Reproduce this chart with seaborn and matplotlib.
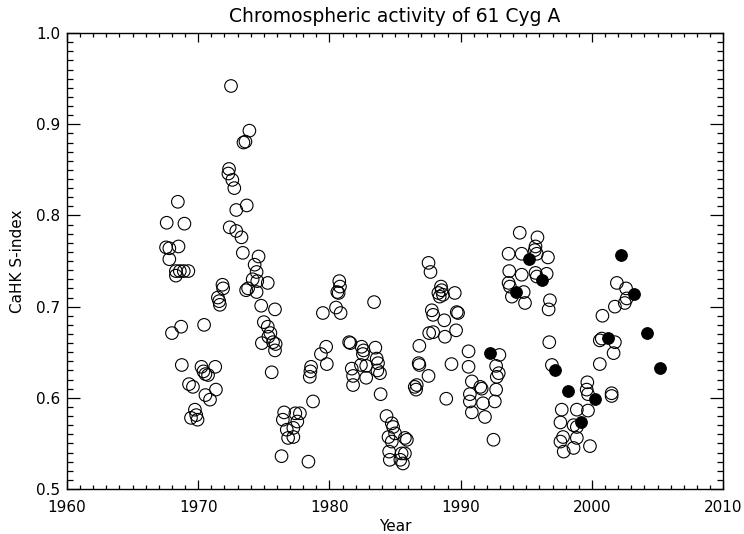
import matplotlib
matplotlib.use("Agg")
import matplotlib.pyplot as plt
from matplotlib.ticker import MultipleLocator, FormatStrFormatter
import seaborn as sns

# open circles
year_open = [
    1967.6, 1968.95, 1968.45, 1967.55, 1967.8, 1968.5, 1967.8, 1968.3, 1968.6, 1968.9,
    1969.25, 1968.3, 1968.0, 1968.7, 1970.45, 1968.75, 1970.25, 1970.4, 1970.75, 1971.3,
    1970.55, 1969.3, 1969.6, 1971.35, 1970.55, 1970.9, 1969.75, 1969.45, 1969.95, 1969.85,
    1971.85, 1971.9, 1971.5, 1971.6, 1971.65, 1972.5, 1973.9, 1973.45, 1973.6, 1972.35,
    1972.3, 1972.6, 1972.75, 1972.9, 1973.7, 1972.4, 1972.9, 1973.3, 1973.4, 1974.6,
    1974.3, 1974.45, 1974.15, 1974.5, 1975.3, 1973.65, 1973.8, 1974.45, 1974.8, 1975.0,
    1975.3, 1975.5, 1975.35, 1974.85, 1975.6, 1975.85, 1975.7, 1975.9, 1975.85, 1976.55,
    1976.45, 1977.4, 1977.75, 1977.55, 1976.75, 1977.25, 1976.85, 1977.25, 1976.35, 1978.4,
    1978.75, 1978.5, 1978.55, 1978.6, 1979.35, 1979.75, 1979.8, 1979.5, 1980.75, 1980.8,
    1980.6, 1980.7, 1980.5, 1980.85, 1983.4, 1981.5, 1981.6, 1982.45, 1982.6, 1982.55,
    1983.5, 1983.6, 1983.7, 1983.65, 1983.85, 1981.7, 1981.8, 1981.8, 1982.4, 1982.8,
    1982.8, 1983.9, 1984.35, 1984.75, 1984.85, 1984.5, 1984.75, 1985.75, 1985.9, 1984.55,
    1984.6, 1985.5, 1985.75, 1985.4, 1985.6, 1985.0, 1987.55, 1987.7, 1988.3, 1988.4,
    1987.8, 1987.9, 1987.6, 1987.9, 1986.85, 1986.8, 1986.85, 1987.55, 1986.5, 1986.6,
    1986.65, 1988.5, 1988.55, 1988.65, 1989.55, 1988.75, 1989.7, 1989.8, 1989.65, 1988.8,
    1988.9, 1990.6, 1992.95, 1989.3, 1990.6, 1992.7, 1992.9, 1992.75, 1990.85, 1991.5,
    1991.6, 1990.7, 1992.7, 1990.7, 1991.7, 1992.6, 1990.85, 1991.85, 1992.5, 1993.65,
    1994.65, 1995.7, 1995.8, 1996.65, 1994.5, 1995.85, 1995.65, 1993.7, 1994.65, 1995.7,
    1995.8, 1996.55, 1993.65, 1993.75, 1993.9, 1994.8, 1994.9, 1996.8, 1996.7, 1996.75,
    1996.95, 1997.7, 1998.85, 1997.6, 1998.6, 1998.85, 1997.8, 1997.6, 1998.85, 1997.85,
    1998.6, 1999.7, 1999.85, 1999.65, 1999.6, 1999.7, 2001.5, 2001.5, 2000.6, 2000.75,
    2001.75, 2001.65, 2000.6, 2001.9, 2002.6, 2001.75, 2002.5, 2002.65, 2000.8,
]
s_open = [
    0.792, 0.791, 0.815, 0.765, 0.764, 0.766, 0.752, 0.739, 0.739, 0.739,
    0.739, 0.734, 0.671, 0.678, 0.680, 0.636, 0.634, 0.629, 0.625, 0.634,
    0.626, 0.615, 0.612, 0.609, 0.603, 0.598, 0.587, 0.578, 0.576, 0.581,
    0.724, 0.720, 0.710, 0.706, 0.702, 0.942, 0.893, 0.880, 0.881, 0.851,
    0.846, 0.839, 0.830, 0.806, 0.811, 0.787, 0.783, 0.776, 0.759, 0.755,
    0.746, 0.738, 0.730, 0.728, 0.726, 0.718, 0.720, 0.716, 0.701, 0.683,
    0.678, 0.671, 0.667, 0.660, 0.628, 0.697, 0.661, 0.659, 0.652, 0.584,
    0.576, 0.583, 0.583, 0.574, 0.565, 0.567, 0.556, 0.557, 0.536, 0.530,
    0.596, 0.623, 0.629, 0.634, 0.648, 0.656, 0.637, 0.693, 0.728, 0.722,
    0.716, 0.715, 0.699, 0.693, 0.705, 0.661, 0.660, 0.656, 0.652, 0.648,
    0.655, 0.643, 0.638, 0.630, 0.627, 0.632, 0.624, 0.614, 0.636, 0.635,
    0.622, 0.604, 0.580, 0.572, 0.568, 0.557, 0.552, 0.556, 0.554, 0.541,
    0.532, 0.539, 0.539, 0.532, 0.528, 0.561, 0.748, 0.738, 0.715, 0.711,
    0.696, 0.691, 0.671, 0.672, 0.657, 0.638, 0.636, 0.624, 0.612, 0.609,
    0.614, 0.722, 0.718, 0.713, 0.715, 0.685, 0.694, 0.693, 0.674, 0.667,
    0.599, 0.651, 0.647, 0.637, 0.634, 0.635, 0.627, 0.623, 0.618, 0.612,
    0.610, 0.604, 0.609, 0.596, 0.594, 0.596, 0.584, 0.579, 0.554, 0.758,
    0.758, 0.766, 0.758, 0.754, 0.781, 0.776, 0.762, 0.739, 0.735, 0.737,
    0.733, 0.736, 0.726, 0.722, 0.711, 0.716, 0.704, 0.707, 0.697, 0.661,
    0.636, 0.587, 0.587, 0.573, 0.570, 0.568, 0.557, 0.552, 0.556, 0.541,
    0.545, 0.586, 0.547, 0.617, 0.609, 0.604, 0.605, 0.602, 0.663, 0.665,
    0.661, 0.649, 0.637, 0.726, 0.720, 0.700, 0.704, 0.709, 0.690,
]

# filled circles
year_filled = [1992.2, 1994.2, 1995.2, 1996.2, 1997.2, 1998.2, 1999.2,
               2000.25, 2001.25, 2002.2, 2003.2, 2004.2, 2005.2]
s_filled = [0.649, 0.716, 0.752, 0.729, 0.630, 0.607, 0.573,
            0.599, 0.666, 0.757, 0.714, 0.671, 0.633]

sns.set_style("ticks")
plt.rcParams['font.family'] = ['DejaVu Sans']
plt.rcParams['text.color'] = 'black'
plt.rcParams['axes.labelcolor'] = 'black'
plt.rcParams['xtick.color'] = 'black'
plt.rcParams['ytick.color'] = 'black'

fig, ax = plt.subplots(figsize=(7.44, 5.34), dpi=100)
fig.subplots_adjust(left=0.090, right=0.972, top=0.938, bottom=0.0843)

sns.scatterplot(x=year_open, y=s_open, ax=ax, marker='o', s=82,
                facecolor='none', edgecolor='black', linewidth=0.8)
sns.scatterplot(x=year_filled, y=s_filled, ax=ax, marker='o', s=70,
                color='black', edgecolor='black', linewidth=0.8)

ax.set_xlim(1960, 2010)
ax.set_ylim(0.5, 1.0)
ax.xaxis.set_major_locator(MultipleLocator(10))
ax.xaxis.set_minor_locator(MultipleLocator(1))
ax.yaxis.set_major_locator(MultipleLocator(0.1))
ax.yaxis.set_minor_locator(MultipleLocator(0.01))
ax.yaxis.set_major_formatter(FormatStrFormatter('%.1f'))

ax.tick_params(axis='both', which='both', direction='in', top=True, right=True,
               color='black', labelcolor='black', width=0.9, labelsize=11)
ax.tick_params(axis='x', which='major', length=6.5, pad=8)
ax.tick_params(axis='x', which='minor', length=3.2)
ax.tick_params(axis='y', which='major', length=9.5, pad=5)
ax.tick_params(axis='y', which='minor', length=4.3)
for sp in ax.spines.values():
    sp.set_color('black')
    sp.set_linewidth(1.0)

ax.set_title("Chromospheric activity of 61 Cyg A", fontsize=13.5, pad=8)
ax.set_xlabel("Year", fontsize=11, labelpad=3)
ax.set_ylabel("CaHK S-index", fontsize=11, labelpad=8)

fig.savefig("out.png", dpi=100)
